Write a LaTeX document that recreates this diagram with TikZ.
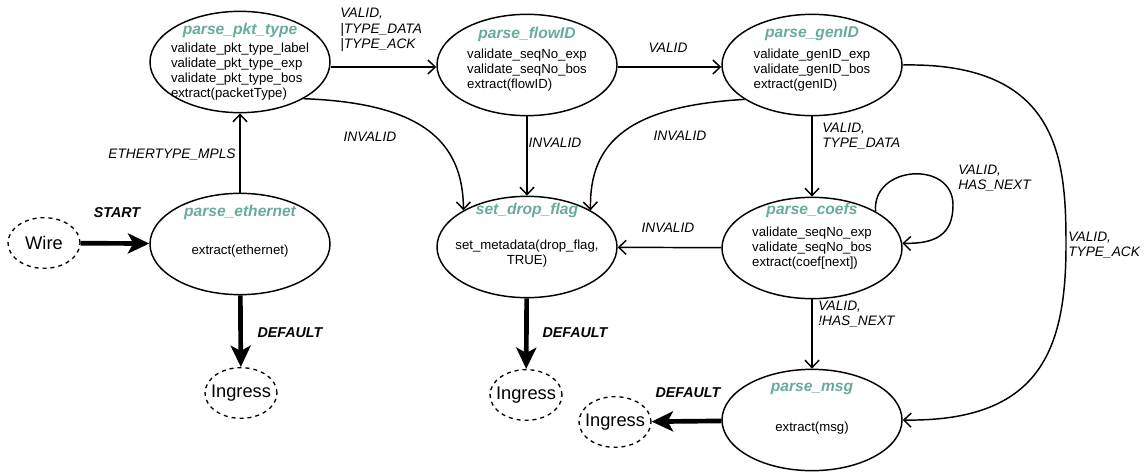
\documentclass[tikz,border=0pt]{standalone}
\usepackage{fontspec}
\setmainfont{Liberation Sans}
\usetikzlibrary{shapes.geometric,arrows.meta,calc}
\definecolor{titlegreen}{HTML}{67AB9F}
\begin{document}
\begin{tikzpicture}[x=0.75pt,y=-0.75pt,
  statebox/.style={ellipse,draw,line width=1.1pt,minimum width=135pt,minimum height=76pt,inner sep=0pt},
  termbox/.style={ellipse,draw,dashed,line width=1pt,minimum width=54pt,minimum height=38pt,inner sep=0pt,
    label={[font=\fontsize{13.7}{16}\selectfont,inner sep=0pt]center:#1}},
  ttl/.style={text=titlegreen,font=\fontsize{11.7}{14}\selectfont\bfseries\itshape,inner sep=0pt},
  body/.style={font=\fontsize{9.9}{11.25}\selectfont,align=left,inner sep=0pt},
  lbl/.style={font=\fontsize{10.3}{11.6}\selectfont\itshape,align=left,inner sep=0pt},
  blbl/.style={font=\fontsize{10.7}{12.5}\selectfont\bfseries\itshape,inner sep=0pt},
  conn/.style={line width=1.1pt,-{Straight Barb[length=5.5pt,width=10.5pt]}},
  thickconn/.style={line width=3.5pt,-{Stealth[length=16pt,width=15pt,inset=4pt]}},
]
\useasboundingbox (0,0) rectangle (1145,475);

% parser states
\node[statebox] (pkt)  at (240,62)  {};
\node[statebox] (flow) at (527,65)  {};
\node[statebox] (gen)  at (812,65)  {};
\node[statebox] (eth)  at (240,244) {};
\node[statebox] (drop) at (527,247) {};
\node[statebox] (coef) at (812,248) {};
\node[statebox] (msg)  at (812,420) {};

% terminals
\node[termbox=Wire]    (wire) at (44,243)  {};
\node[termbox=Ingress] (ing1) at (241,393) {};
\node[termbox=Ingress] (ing2) at (526,395) {};
\node[termbox=Ingress] (ing3) at (615,422) {};

% state titles and actions
\node[ttl]  (pktT)  at ($(pkt)+(0,-32)$)  {parse\_pkt\_type};
\node[body] (pktB)  at ($(pkt)+(0,10)$)   {validate\_pkt\_type\_label\\validate\_pkt\_type\_exp\\validate\_pkt\_type\_bos\\extract(packetType)};
\node[ttl]  (flowT) at ($(flow)+(0,-31)$) {parse\_flowID};
\node[body] (flowB) at ($(flow)+(0,5)$)   {validate\_seqNo\_exp\\validate\_seqNo\_bos\\extract(flowID)};
\node[ttl]  (genT)  at ($(gen)+(0,-31)$)  {parse\_genID};
\node[body] (genB)  at ($(gen)+(0,5)$)    {validate\_genID\_exp\\validate\_genID\_bos\\extract(genID)};
\node[ttl]  (ethT)  at ($(eth)+(0,-32)$)  {parse\_ethernet};
\node[body] (ethB)  at ($(eth)+(0,7)$)    {extract(ethernet)};
\node[ttl]  (dropT) at ($(drop)+(0,-37)$) {set\_drop\_flag};
\node[body,align=center] (dropB) at ($(drop)+(0,7)$) {set\_metadata(drop\_flag,\\TRUE)};
\node[ttl]  (coefT) at ($(coef)+(0,-38)$) {parse\_coefs};
\node[body] (coefB) at ($(coef)+(0,0)$)   {validate\_seqNo\_exp\\validate\_seqNo\_bos\\extract(coef[next])};
\node[ttl]  (msgT)  at ($(msg)+(0,-31)$)  {parse\_msg};
\node[body] (msgB)  at ($(msg)+(0,8)$)    {extract(msg)};

% transitions
\draw[thickconn] (wire) -- (eth);
\draw[thickconn] (eth) -- (ing1);
\draw[thickconn] (drop) -- (ing2);
\draw[thickconn] (msg) -- (ing3);

\draw[conn] (eth) -- (pkt);
\draw[conn] (pkt.east |- 0,67) -- (flow.west |- 0,67);
\draw[conn] (flow.east |- 0,67) -- (gen.west |- 0,67);
\draw[conn] (flow) -- (drop);
\draw[conn] (gen) -- (coef);
\draw[conn] (coef) -- (drop);
\draw[conn] (coef) -- (msg);
\draw[conn] (pkt.-30) .. controls (420,103) and (463,140) .. (drop.150);
\draw[conn] (gen.207) .. controls (632,106) and (589,140) .. (drop.30);
\draw[conn] (coef.30) .. controls (872,165) and (953,160) .. (953,205)
                      .. controls (953,235) and (935,244) .. (coef.3);
\draw[conn] (gen.east) .. controls (1060,62) and (1066,160) .. (1066,245)
                       .. controls (1066,350) and (1040,422) .. (msg.east);

% transition labels
\node[blbl] (lStart) at (117,213) {START};
\node[blbl] (lDef1)  at (290,333) {DEFAULT};
\node[blbl] (lDef2)  at (575,333) {DEFAULT};
\node[blbl] (lDef3)  at (688,393) {DEFAULT};
\node[lbl]  (lMpls)  at (172,155) {ETHERTYPE\_MPLS};
\node[lbl,anchor=north west] (lPkt) at (340,8) {VALID,\\|TYPE\_DATA\\|TYPE\_ACK};
\node[lbl]  (lFlow)  at (668,48)  {VALID};
\node[lbl]  (lInv1)  at (370,137) {INVALID};
\node[lbl]  (lInv2)  at (555,143) {INVALID};
\node[lbl]  (lInv3)  at (680,136) {INVALID};
\node[lbl]  (lInv4)  at (668,228) {INVALID};
\node[lbl,anchor=west] (lData) at (822,136) {VALID,\\TYPE\_DATA};
\node[lbl,anchor=west] (lNext) at (958,178) {VALID,\\HAS\_NEXT};
\node[lbl,anchor=west] (lLast) at (818,314) {VALID,\\!HAS\_NEXT};
\node[lbl,anchor=west] (lAck)  at (1068,245) {VALID,\\TYPE\_ACK};
\end{tikzpicture}
\end{document}
